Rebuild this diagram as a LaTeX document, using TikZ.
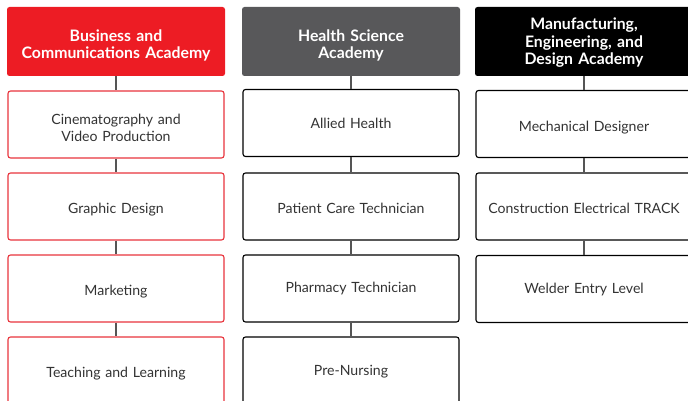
\documentclass[tikz,border=0pt]{standalone}
\usepackage{fontspec}
\setmainfont{Lato}
\definecolor{bizred}{HTML}{ED1C24}
\definecolor{bizedge}{HTML}{E8343C}
\definecolor{healthgray}{HTML}{58585A}
\definecolor{linkgray}{HTML}{555555}
\definecolor{labeltext}{HTML}{333333}
\begin{document}
\begin{tikzpicture}[x=1pt, y=-1pt,
  headtext/.style={text width=214pt, align=center, text=white, inner sep=0pt,
    font=\fontsize{15.8}{17.5}\selectfont\bfseries},
  head/.style n args={2}{rounded corners=2.5pt, minimum width=218pt, minimum height=69pt,
    inner sep=0pt, label={[headtext, yshift=#2]center:{#1}}},
  tracktext/.style={text width=210pt, align=center, text=labeltext, inner sep=0pt,
    font=\fontsize{14.1}{16.5}\selectfont},
  track/.style n args={2}{draw, line width=1.1pt, rounded corners=2.5pt, fill=white,
    minimum width=216pt, minimum height=67pt, inner sep=0pt,
    label={[tracktext, yshift=#2]center:{#1}}},
  biztrack/.style={track={#1}{-3.5pt}, draw=bizedge},
  link/.style={linkgray, line width=1.3pt}]
  \useasboundingbox (0,0) rectangle (688,401);
  % business and communications
  \node[head={Business and\\Communications Academy}{-4pt}, fill=bizred] (biz) at (116,41.5) {};
  \node[biztrack={Cinematography and\\Video Production}] (cine) at (116,124.5) {};
  \node[biztrack={Graphic Design}] (graph) at (116,206.5) {};
  \node[biztrack={Marketing}] (mark) at (116,288.5) {};
  \node[biztrack={Teaching and Learning}] (teach) at (116,370.5) {};
  \draw[link] (biz.south) -- (cine.north);
  \draw[link] (cine.south) -- (graph.north);
  \draw[link] (graph.south) -- (mark.north);
  \draw[link] (mark.south) -- (teach.north);
  % health science
  \node[head={Health Science\\Academy}{-4pt}, fill=healthgray] (hlth) at (351,41.5) {};
  \node[track={Allied Health}{-0.5pt}] (allied) at (351,123) {};
  \node[track={Patient Care Technician}{-1.5pt}] (patient) at (351,206.5) {};
  \node[track={Pharmacy Technician}{-0.5pt}] (pharm) at (351,288.5) {};
  \node[track={Pre-Nursing}{-1.5pt}] (nurse) at (351,370.5) {};
  \draw[link] (hlth.south) -- (allied.north);
  \draw[link] (allied.south) -- (patient.north);
  \draw[link] (patient.south) -- (pharm.north);
  \draw[link] (pharm.south) -- (nurse.north);
  % manufacturing, engineering, design
  \node[head={Manufacturing,\\Engineering, and\\Design Academy}{-1.5pt}, fill=black] (manu) at (584,41.5) {};
  \node[track={Mechanical Designer}{-3.5pt}] (mech) at (584,124) {};
  \node[track={Construction Electrical TRACK}{-1.5pt}] (elec) at (584,206.5) {};
  \node[track={Welder Entry Level}{-0.5pt}] (weld) at (584,289) {};
  \draw[link] (manu.south) -- (mech.north);
  \draw[link] (mech.south) -- (elec.north);
  \draw[link] (elec.south) -- (weld.north);
\end{tikzpicture}
\end{document}
